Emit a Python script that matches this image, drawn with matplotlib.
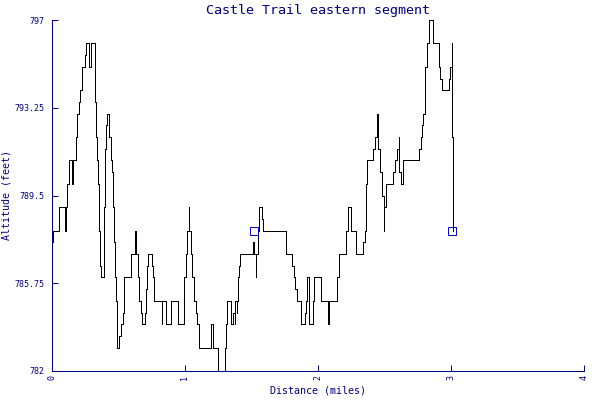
import matplotlib
matplotlib.use("Agg")
import matplotlib.pyplot as plt

title = "Castle Trail eastern segment"
x_label = "Distance (miles)"
y_label = "Altitude (feet)"
x_ticks = [0, 1, 2, 3, 4]
y_ticks = [782, 785.75, 789.5, 793.25, 797]
y_tick_labels = ["782", "785.75", "789.5", "793.25", "797"]

# Profile step points: distance (miles) where altitude changes, new altitude (feet)
distance = [
    0.000, 0.005, 0.010, 0.053, 0.057, 0.100, 0.105, 0.117, 0.132, 0.155,
    0.160, 0.180, 0.192, 0.205, 0.213, 0.230, 0.248, 0.258, 0.282, 0.297,
    0.325, 0.333, 0.340, 0.348, 0.353, 0.363, 0.373, 0.395, 0.403, 0.410,
    0.418, 0.433, 0.445, 0.453, 0.460, 0.468, 0.475, 0.483, 0.488, 0.493,
    0.508, 0.518, 0.533, 0.541, 0.545, 0.599, 0.629, 0.633, 0.648, 0.658,
    0.667, 0.680, 0.698, 0.706, 0.713, 0.721, 0.750, 0.757, 0.766, 0.825,
    0.828, 0.858, 0.898, 0.951, 0.997, 1.006, 1.016, 1.030, 1.033, 1.044,
    1.057, 1.069, 1.080, 1.091, 1.104, 1.109, 1.199, 1.214, 1.251, 1.299,
    1.309, 1.314, 1.319, 1.349, 1.362, 1.373, 1.380, 1.388, 1.392, 1.399,
    1.409, 1.416, 1.514, 1.523, 1.531, 1.538, 1.547, 1.557, 1.577, 1.585,
    1.762, 1.808, 1.818, 1.831, 1.840, 1.870, 1.900, 1.908, 1.914, 1.935,
    1.965, 1.970, 2.023, 2.077, 2.083, 2.143, 2.155, 2.213, 2.225, 2.248,
    2.285, 2.340, 2.351, 2.363, 2.370, 2.411, 2.426, 2.443, 2.451, 2.468,
    2.481, 2.493, 2.499, 2.511, 2.566, 2.576, 2.596, 2.605, 2.612, 2.620,
    2.636, 2.761, 2.771, 2.781, 2.791, 2.800, 2.807, 2.816, 2.836, 2.864,
    2.911, 2.920, 2.928, 2.986, 2.995, 3.003, 3.006, 3.011,
]
altitude = [
    786.0, 787.5, 788.0, 788.5, 789.0, 788.0, 789.0, 790.0, 791.0, 790.0,
    791.0, 792.0, 793.0, 793.5, 794.0, 795.0, 795.5, 796.0, 795.0, 796.0,
    793.5, 792.0, 791.0, 790.0, 788.0, 786.5, 786.0, 789.0, 791.5, 792.5,
    793.0, 792.0, 791.0, 790.5, 789.0, 787.5, 786.0, 785.0, 784.0, 783.0,
    783.5, 784.0, 784.5, 785.5, 786.0, 787.0, 788.0, 787.0, 786.0, 785.0,
    784.5, 784.0, 784.5, 785.5, 786.5, 787.0, 786.5, 786.0, 785.0, 784.0,
    785.0, 784.0, 785.0, 784.0, 786.0, 787.0, 788.0, 789.0, 788.0, 787.0,
    786.0, 785.0, 784.5, 784.0, 783.5, 783.0, 784.0, 783.0, 782.0, 783.0,
    784.0, 784.5, 785.0, 784.0, 784.5, 784.0, 785.0, 784.5, 785.0, 786.0,
    786.5, 787.0, 787.5, 787.0, 786.0, 787.0, 788.0, 789.0, 788.5, 788.0,
    787.0, 786.5, 786.0, 785.5, 785.0, 784.0, 784.5, 785.0, 786.0, 784.0,
    785.0, 786.0, 785.0, 784.0, 785.0, 786.0, 787.0, 788.0, 789.0, 788.0,
    787.0, 787.5, 788.0, 790.0, 791.0, 791.5, 792.0, 793.0, 791.5, 790.5,
    789.5, 788.0, 789.0, 790.0, 790.5, 791.0, 791.5, 792.0, 790.5, 790.0,
    791.0, 791.5, 792.0, 792.5, 793.0, 794.0, 795.0, 796.0, 797.0, 796.0,
    795.0, 794.5, 794.0, 794.5, 795.0, 796.0, 792.0, 788.0,
]

# Waypoint markers
waypoint_distance = [1.523, 3.009]
waypoint_altitude = [788.0, 788.0]

navy = "#000080"
mono = "DejaVu Sans Mono"

fig = plt.figure(figsize=(6, 4), dpi=100)
ax = fig.add_axes([0.0862, 0.0725, 0.8876, 0.8775])

ax.step(distance, altitude, where="post", color="black", linewidth=0.6,
        antialiased=False, zorder=2)
ax.plot(waypoint_distance, waypoint_altitude, linestyle="none", marker="s",
        markersize=5.5, markerfacecolor="none", markeredgecolor="#0000cc",
        markeredgewidth=0.7, zorder=3)

ax.set_xlim(0, 4)
ax.set_ylim(782, 797)
ax.set_xticks(x_ticks)
ax.set_xticklabels([str(t) for t in x_ticks], rotation=90, fontsize=6,
                   family=mono, color=navy)
ax.set_yticks(y_ticks)
ax.set_yticklabels(y_tick_labels, fontsize=6, family=mono, color=navy)
ax.tick_params(axis="both", direction="in", length=4, width=0.7, color=navy)
ax.tick_params(axis="x", pad=3)
ax.tick_params(axis="y", pad=5)

for side in ("top", "right"):
    ax.spines[side].set_visible(False)
for side in ("left", "bottom"):
    ax.spines[side].set_color(navy)
    ax.spines[side].set_linewidth(0.75)

ax.set_title(title, fontsize=9.6, family=mono, color=navy, pad=4)
ax.set_xlabel(x_label, fontsize=7.2, family=mono, color=navy, labelpad=4)
ax.set_ylabel(y_label, fontsize=7.2, family=mono, color=navy, labelpad=2)

fig.savefig("out.png", dpi=100)
